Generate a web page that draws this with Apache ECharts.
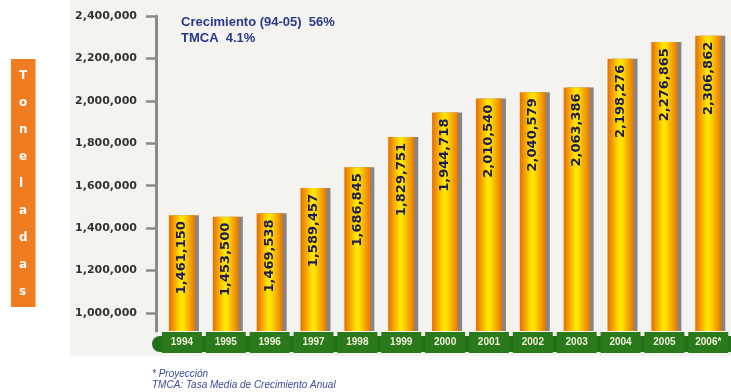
<!DOCTYPE html>
<html>
<head>
<meta charset="utf-8">
<script src="https://cdn.jsdelivr.net/npm/echarts@6/dist/echarts.min.js"></script>
<style>
html,body{margin:0;padding:0;background:#ffffff;}
#chart{width:731px;height:392px;}
</style>
</head>
<body>
<div id="chart"></div>
<script>
const years = ['1994','1995','1996','1997','1998','1999','2000','2001','2002','2003','2004','2005','2006*'];
const toneladas = [1461150, 1453500, 1469538, 1589457, 1686845, 1829751, 1944718, 2010540, 2040579, 2063386, 2198276, 2276865, 2306862];
const yTicks = [1000000, 1200000, 1400000, 1600000, 1800000, 2000000, 2200000, 2400000];
const axisTitle = 'Toneladas';
const noteLines = ['Crecimiento (94-05)  56%', 'TMCA  4.1%'];
const footLines = ['* Proyección', 'TMCA: Tasa Media de Crecimiento Anual'];

const fmt = v => Number(v).toLocaleString('en-US');

const chart = echarts.init(document.getElementById('chart'));
chart.setOption({
  animation: false,
  backgroundColor: '#ffffff',
  graphic: {
    elements: [{
      type: 'rect', z: -10, silent: true,
      shape: {x: 70, y: 0, width: 661, height: 356},
      style: {fill: '#f5f3f0'}
    }]
  },
  title: [
    {
      text: axisTitle.split('').join('\n'),
      left: 11, top: 59,
      backgroundColor: '#f07c22',
      padding: [3, 8, 2, 8],
      textAlign: 'left',
      textStyle: {color: '#ffffff', fontFamily: 'DejaVu Sans', fontWeight: 'bold', fontSize: 12, lineHeight: 27, align: 'center'}
    },
    {
      text: noteLines.join('\n'),
      left: 181, top: 14,
      padding: 0,
      textStyle: {color: '#27398c', fontFamily: 'Liberation Sans', fontWeight: 'bold', fontSize: 13, lineHeight: 16}
    },
    {
      text: footLines.join('\n'),
      left: 152, top: 369,
      padding: 0,
      textStyle: {color: '#3a4a9c', fontFamily: 'Liberation Sans', fontStyle: 'italic', fontWeight: 'normal', fontSize: 10, lineHeight: 11}
    }
  ],
  grid: {left: 160, right: -6, top: 16, bottom: 61, containLabel: false},
  xAxis: {
    type: 'category',
    data: years,
    offset: 13,
    axisLine: {lineStyle: {color: '#23701a', width: 16}},
    axisTick: {show: false},
    axisLabel: {
      margin: -12,
      interval: 0,
      color: '#eef0d6',
      fontFamily: 'Liberation Sans',
      fontWeight: 'bold',
      fontSize: 10,
      backgroundColor: '#2a7a1c',
      width: 40,
      height: 21,
      lineHeight: 21,
      align: 'center',
      verticalAlign: 'top'
    }
  },
  yAxis: {
    type: 'value',
    min: 915000,
    max: 2400000,
    offset: 4,
    splitLine: {show: false},
    axisLine: {show: true, lineStyle: {color: '#8a8a8a', width: 3}},
    axisTick: {show: true, customValues: yTicks, length: 10, lineStyle: {color: '#8a8a8a', width: 2.5}},
    axisLabel: {
      customValues: yTicks,
      margin: 19,
      formatter: v => fmt(v),
      color: '#333333',
      fontFamily: 'DejaVu Sans',
      fontWeight: 'bold',
      fontSize: 11
    }
  },
  series: [{
    type: 'bar',
    data: toneladas,
    barWidth: 26,
    itemStyle: {
      color: new echarts.graphic.LinearGradient(0, 0, 1, 0, [
        {offset: 0, color: '#e86c00'},
        {offset: 0.45, color: '#ffe600'},
        {offset: 0.55, color: '#ffe200'},
        {offset: 1, color: '#ea7400'}
      ]),
      shadowColor: 'rgba(115,115,115,0.85)',
      shadowOffsetX: 4,
      shadowOffsetY: 0,
      shadowBlur: 0
    },
    label: {
      show: true,
      position: 'insideTop',
      rotate: 90,
      align: 'right',
      verticalAlign: 'middle',
      distance: 6,
      formatter: p => fmt(p.value),
      color: '#1c1c58',
      fontFamily: 'DejaVu Sans',
      fontWeight: 'bold',
      fontSize: 13
    }
  }]
});
</script>
</body>
</html>
